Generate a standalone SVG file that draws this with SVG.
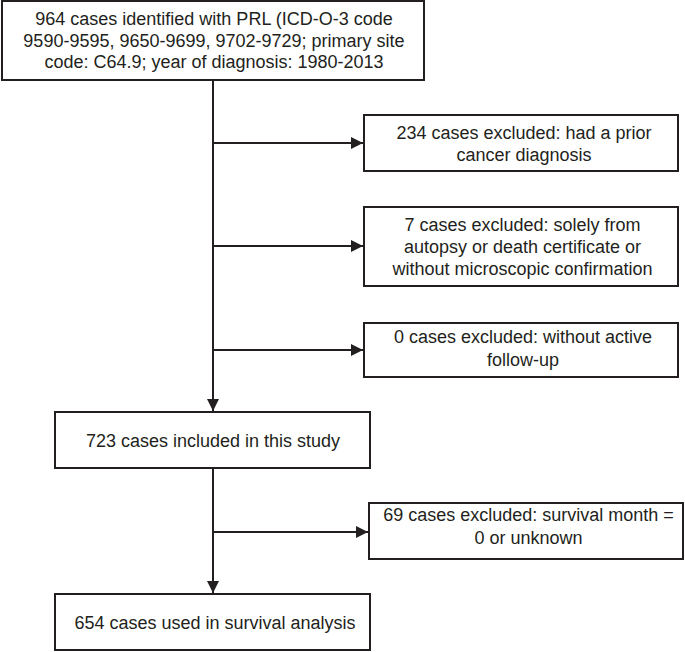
<svg xmlns="http://www.w3.org/2000/svg" width="685" height="652" viewBox="0 0 685 652">
<defs>
<style>
.box{fill:#ffffff;stroke:#231f20;stroke-width:2}
.t{font-family:"Liberation Sans",Arial,sans-serif;font-size:18px;fill:#231f20;text-anchor:middle}
.ln{stroke:#231f20;stroke-width:2;fill:none}
</style>
<marker id="ah" markerWidth="12" markerHeight="12" refX="12" refY="6" orient="auto" markerUnits="userSpaceOnUse">
<path d="M0,0 L12,6 L0,12 Z" fill="#231f20"/>
</marker>
</defs>
<rect width="685" height="652" fill="#ffffff"/>
<g id="connectors">
<line class="ln" x1="213" y1="80" x2="213" y2="411" marker-end="url(#ah)"/>
<line class="ln" x1="213" y1="143" x2="363" y2="143" marker-end="url(#ah)"/>
<line class="ln" x1="213" y1="246" x2="363" y2="246" marker-end="url(#ah)"/>
<line class="ln" x1="213" y1="350" x2="363" y2="350" marker-end="url(#ah)"/>
<line class="ln" x1="213" y1="468" x2="213" y2="593" marker-end="url(#ah)"/>
<line class="ln" x1="213" y1="532" x2="368" y2="532" marker-end="url(#ah)"/>
</g>
<g id="n-identified">
<rect class="box" x="2" y="1" width="422" height="79"/>
<text class="t" x="214" y="25">964 cases identified with PRL (ICD-O-3 code</text>
<text class="t" x="214" y="46.5">9590-9595, 9650-9699, 9702-9729; primary site</text>
<text class="t" x="214" y="68">code: C64.9; year of diagnosis: 1980-2013</text>
</g>
<g id="n-excl-prior">
<rect class="box" x="364" y="115" width="314" height="56"/>
<text class="t" x="524" y="138.5">234 cases excluded: had a prior</text>
<text class="t" x="524" y="161">cancer diagnosis</text>
</g>
<g id="n-excl-autopsy">
<rect class="box" x="364" y="207" width="314" height="79"/>
<text class="t" x="522.5" y="231">7 cases excluded: solely from</text>
<text class="t" x="522.5" y="253">autopsy or death certificate or</text>
<text class="t" x="522.5" y="275">without microscopic confirmation</text>
</g>
<g id="n-excl-followup">
<rect class="box" x="364" y="323" width="314" height="54"/>
<text class="t" x="523" y="343">0 cases excluded: without active</text>
<text class="t" x="523" y="365.5">follow-up</text>
</g>
<g id="n-included">
<rect class="box" x="55" y="412" width="315" height="56"/>
<text class="t" x="213" y="447">723 cases included in this study</text>
</g>
<g id="n-excl-survival">
<rect class="box" x="369" y="503" width="314" height="56"/>
<text class="t" x="528.5" y="521">69 cases excluded: survival month =</text>
<text class="t" x="528.5" y="543.5">0 or unknown</text>
</g>
<g id="n-survival">
<rect class="box" x="55" y="594" width="315" height="56"/>
<text class="t" x="215" y="629">654 cases used in survival analysis</text>
</g>
</svg>
